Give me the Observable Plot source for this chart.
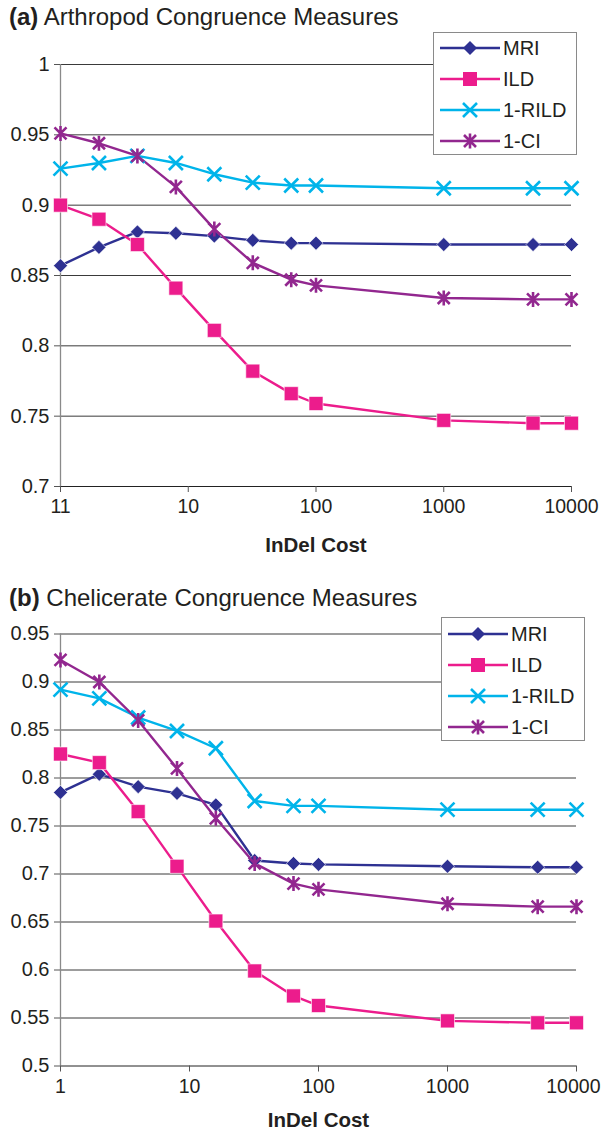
<!DOCTYPE html>
<html><head><meta charset="utf-8">
<script src="https://cdn.jsdelivr.net/npm/d3@7"></script>
<script src="https://cdn.jsdelivr.net/npm/@observablehq/plot@0.6"></script>
<style>
body{margin:0;background:#fff;font-family:"Liberation Sans",Arial,Helvetica,sans-serif;}
#wrap{position:relative;width:601px;height:1131px;overflow:hidden;background:#fff}
.title{position:absolute;left:9px;font-size:24px;line-height:26px;color:#231f20;white-space:nowrap}
.panel{position:absolute;left:0}
.legend{position:absolute;background:#fff;border:1px solid #8a8a8a;box-sizing:border-box}
.legend svg{position:absolute;left:0;top:0;overflow:visible}
</style></head><body><div id="wrap"></div>
<script>
// ---------- data ----------
const costs = [1, 2, 4, 8, 16, 32, 64, 100, 1000, 5000, 10000];
const seriesNames = ["MRI", "ILD", "1-RILD", "1-CI"];

// (a) Arthropod
const arthMRI  = [0.857, 0.870, 0.881, 0.880, 0.878, 0.875, 0.873, 0.873, 0.872, 0.872, 0.872];
const arthILD  = [0.900, 0.890, 0.872, 0.841, 0.811, 0.782, 0.766, 0.759, 0.747, 0.745, 0.745];
const arthRILD = [0.926, 0.930, 0.935, 0.930, 0.922, 0.916, 0.914, 0.914, 0.912, 0.912, 0.912];
const arthCI   = [0.951, 0.944, 0.935, 0.913, 0.883, 0.859, 0.847, 0.843, 0.834, 0.833, 0.833];

// (b) Chelicerate
const chelMRI  = [0.785, 0.804, 0.791, 0.784, 0.772, 0.714, 0.711, 0.710, 0.708, 0.707, 0.707];
const chelILD  = [0.825, 0.816, 0.765, 0.708, 0.651, 0.599, 0.573, 0.563, 0.547, 0.545, 0.545];
const chelRILD = [0.892, 0.883, 0.863, 0.849, 0.831, 0.776, 0.771, 0.771, 0.767, 0.767, 0.767];
const chelCI   = [0.923, 0.900, 0.860, 0.810, 0.758, 0.711, 0.690, 0.684, 0.669, 0.666, 0.666];

// axes
const xTickValues = [1, 10, 100, 1000, 10000];
const xTickLabelsA = ["11", "10", "100", "1000", "10000"];
const xTickLabelsB = ["1", "10", "100", "1000", "10000"];
const yTicksA = [0.7, 0.75, 0.8, 0.85, 0.9, 0.95, 1];
const yLabelsA = ["0.7", "0.75", "0.8", "0.85", "0.9", "0.95", "1"];
const yTicksB = [0.5, 0.55, 0.6, 0.65, 0.7, 0.75, 0.8, 0.85, 0.9, 0.95];
const yLabelsB = ["0.5", "0.55", "0.6", "0.65", "0.7", "0.75", "0.8", "0.85", "0.9", "0.95"];
const xAxisTitle = "InDel Cost";

// ---------- styling ----------
const colors = ["#2e3192", "#ec1c8c", "#00b4ea", "#92278f"];
const sym = f => ({draw(c, size) { const r = Math.sqrt(size / Math.PI); f(c, r); }});
const diamondSym = sym((c, r) => { c.moveTo(0, -r); c.lineTo(r, 0); c.lineTo(0, r); c.lineTo(-r, 0); c.closePath(); });
const squareSym = sym((c, r) => { c.moveTo(-r, -r); c.lineTo(r, -r); c.lineTo(r, r); c.lineTo(-r, r); c.closePath(); });
const timesSym = sym((c, r) => { c.moveTo(-r, -r); c.lineTo(r, r); c.moveTo(-r, r); c.lineTo(r, -r); });
const starSym = sym((c, r) => { const a = r * 0.8; c.moveTo(-a, -a); c.lineTo(a, a); c.moveTo(-a, a); c.lineTo(a, -a); c.moveTo(0, -r); c.lineTo(0, r); });
const symbols = [diamondSym, squareSym, timesSym, starSym];
const symR = [7, 7, 7, 7.5];
const filled = [true, true, false, false];

const wrap = document.getElementById("wrap");

function panel(cfg) {
  const t = document.createElement("div");
  t.className = "title";
  t.style.top = cfg.titleTop + "px";
  t.innerHTML = "<b>" + cfg.tag + "</b> " + cfg.title;
  wrap.appendChild(t);

  const last = xTickValues[xTickValues.length - 1];
  const xFmt = d => (cfg.pinLast && d === last) ? "" : (cfg.xLabels[xTickValues.indexOf(d)] ?? "");
  const yFmt = d => cfg.yLabels[cfg.yTicks.indexOf(d)] ?? "";
  const data = cfg.series.flatMap((vals, k) => costs.map((c, i) => ({cost: c, value: vals[i], name: seriesNames[k], k})));
  const marks = [
    Plot.gridY(cfg.yTicks.slice(1), {stroke: "#3a3a3a", strokeOpacity: 1, strokeWidth: 1}),
    Plot.ruleY([cfg.yTicks[0]], {stroke: "#222", strokeWidth: 1}),
    Plot.ruleX([1], {stroke: "#8a8a8a", strokeWidth: 1.3}),
    Plot.axisY(cfg.yTicks, {tickFormat: yFmt, tickSize: 6, tickPadding: 5, label: null, stroke: "#555"}),
    Plot.axisX(xTickValues, {tickFormat: xFmt, tickSize: 6, tickPadding: 7, label: null, stroke: "#555", fontSize: 19.5})
  ];
  if (cfg.pinLast) {
    marks.push(Plot.axisX([last], {tickFormat: d => cfg.xLabels[xTickValues.indexOf(d)], tickSize: 0, tickPadding: 13, label: null, fontSize: 19.5, textAnchor: "end", dx: cfg.pinLast}));
  }
  marks.push(Plot.text([xAxisTitle], {frameAnchor: "bottom", lineAnchor: "middle", dy: cfg.xTitleDy, fontWeight: "bold", fontSize: 20.5, fill: "#231f20"}));
  seriesNames.forEach((n, k) => {
    const d = data.filter(e => e.k === k);
    marks.push(Plot.line(d, {x: "cost", y: "value", stroke: colors[k], strokeWidth: 2.4}));
  });
  seriesNames.forEach((n, k) => {
    const d = data.filter(e => e.k === k);
    marks.push(Plot.dot(d, filled[k]
      ? {x: "cost", y: "value", symbol: () => symbols[k], r: symR[k], fill: colors[k], stroke: "#fff", strokeWidth: 0.6}
      : {x: "cost", y: "value", symbol: () => symbols[k], r: symR[k], stroke: colors[k], strokeWidth: 2.6, fill: "none"}));
  });
  const svg = Plot.plot({
    width: 601, height: cfg.height,
    marginTop: cfg.mt, marginBottom: cfg.mb, marginLeft: 60, marginRight: cfg.mr,
    style: {fontFamily: "'Liberation Sans', Arial, sans-serif", fontSize: "20px", color: "#231f20", background: "transparent", overflow: "visible"},
    x: {type: "log", domain: [1, 10000]},
    y: {domain: [cfg.yTicks[0], cfg.yTicks[cfg.yTicks.length - 1]]},
    symbol: {type: "identity"},
    marks
  });
  const holder = document.createElement("div");
  holder.className = "panel";
  holder.style.top = cfg.top + "px";
  holder.appendChild(svg);
  wrap.appendChild(holder);

  // legend
  const L = cfg.legend;
  const lg = document.createElement("div");
  lg.className = "legend";
  Object.assign(lg.style, {left: L.x + "px", top: L.y + "px", width: L.w + "px", height: L.h + "px"});
  const ns = "http://www.w3.org/2000/svg";
  const s = document.createElementNS(ns, "svg");
  s.setAttribute("width", L.w); s.setAttribute("height", L.h);
  seriesNames.forEach((n, k) => {
    const y = L.row0 + k * L.dy;
    const line = document.createElementNS(ns, "line");
    line.setAttribute("x1", L.lx0); line.setAttribute("x2", L.lx1);
    line.setAttribute("y1", y); line.setAttribute("y2", y);
    line.setAttribute("stroke", colors[k]); line.setAttribute("stroke-width", 2.4);
    s.appendChild(line);
    const p = document.createElementNS(ns, "path");
    p.setAttribute("d", d3.symbol().type(symbols[k]).size(Math.PI * symR[k] * symR[k])());
    p.setAttribute("transform", `translate(${(L.lx0 + L.lx1) / 2},${y})`);
    if (filled[k]) { p.setAttribute("fill", colors[k]); }
    else { p.setAttribute("fill", "none"); p.setAttribute("stroke", colors[k]); p.setAttribute("stroke-width", 2.6); }
    s.appendChild(p);
    const tx = document.createElementNS(ns, "text");
    tx.setAttribute("x", L.lx1 + 3); tx.setAttribute("y", y);
    tx.setAttribute("dy", "0.35em");
    tx.setAttribute("font-size", "20px");
    tx.setAttribute("fill", "#231f20");
    tx.setAttribute("font-family", "'Liberation Sans', Arial, sans-serif");
    tx.textContent = n;
    s.appendChild(tx);
  });
  lg.appendChild(s);
  wrap.appendChild(lg);
}

panel({
  tag: "(a)", title: "Arthropod Congruence Measures", titleTop: 4,
  top: 40, height: 520, mt: 24, mb: 74, mr: 30, pinLast: 0,
  yTicks: yTicksA, yLabels: yLabelsA, xLabels: xTickLabelsA, xTitleDy: 59,
  series: [arthMRI, arthILD, arthRILD, arthCI],
  legend: {x: 433, y: 32, w: 144, h: 123, row0: 15, dy: 31, lx0: 6, lx1: 66}
});
panel({
  tag: "(b)", title: "Chelicerate Congruence Measures", titleTop: 585,
  top: 620, height: 511, mt: 13.5, mb: 65.5, mr: 25, pinLast: 24,
  yTicks: yTicksB, yLabels: yLabelsB, xLabels: xTickLabelsB, xTitleDy: 54,
  series: [chelMRI, chelILD, chelRILD, chelCI],
  legend: {x: 441, y: 617, w: 144, h: 124, row0: 16, dy: 31, lx0: 6, lx1: 66}
});
</script></body></html>
